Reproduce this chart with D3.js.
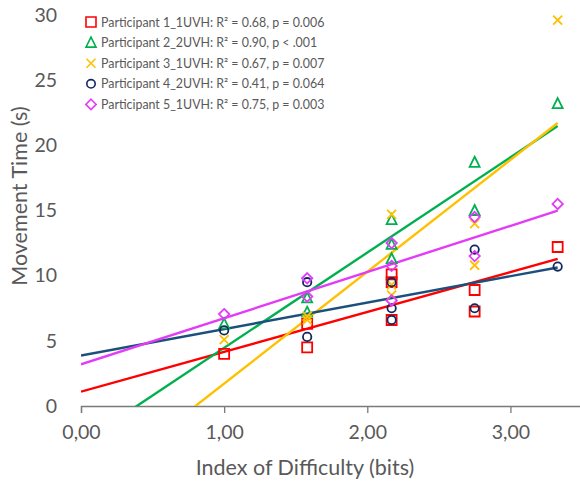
<!DOCTYPE html>
<html><head><meta charset="utf-8">
<script src="https://cdn.jsdelivr.net/npm/d3@7"></script>
<style>body{margin:0;background:#fff}svg text{font-family:Lato,"Noto Sans",sans-serif}</style>
</head><body><svg id="c" width="580" height="487"></svg>
<script>
// ---- data ----
const participants = ["Participant 1_1UVH", "Participant 2_2UVH", "Participant 3_1UVH", "Participant 4_2UVH", "Participant 5_1UVH"];
const statsLabels = ["R² = 0.68, p = 0.006", "R² = 0.90, p < .001", "R² = 0.67, p = 0.007", "R² = 0.41, p = 0.064", "R² = 0.75, p = 0.003"];
const idX = [1.00, 1.58, 1.58, 2.17, 2.17, 2.17, 2.75, 2.75, 3.33];
const p1Y = [4.0, 6.3, 4.5, 10.1, 9.5, 6.6, 8.9, 7.25, 12.2];
const p2Y = [6.3, 8.3, 7.2, 14.3, 12.4, 11.3, 18.7, 15.0, 23.2];
const p3Y = [5.1, 6.9, 6.6, 14.7, 9.3, 8.5, 14.0, 10.8, 29.6];
const p4Y = [5.8, 9.5, 5.3, 9.5, 7.5, 6.6, 12.0, 7.5, 10.7];
const p5Y = [7.05, 9.8, 8.4, 12.5, 10.75, 8.1, 14.5, 11.5, 15.5];
const trendIntercept = [1.1, -2.85, -6.86, 3.87, 3.2];
const trendSlope = [3.06, 7.31, 8.58, 2.03, 3.54];
const xTicks = [0, 1, 2, 3];
const yTicks = [0, 5, 10, 15, 20, 25, 30];
const xTitle = "Index of Difficulty (bits)";
const yTitle = "Movement Time (s)";

// ---- styles ----
const seriesY = [p1Y, p2Y, p3Y, p4Y, p5Y];
const markerColor = ["#ff0000", "#00b050", "#ffc000", "#13285f", "#e23cf7"];
const lineColor = ["#ff0000", "#00b050", "#ffc000", "#1b4f7c", "#e23cf7"];
const shapes = ["square", "triangle", "x", "circle", "diamond"];

const svg = d3.select("#c");
const x = d3.scaleLinear().domain([0, 3.5]).range([81, 582]);
const y = d3.scaleLinear().domain([0, 30]).range([406, 15]);
const txt = "#595959";

function shapePath(s) {
  switch (s) {
    case "square": return "M-5,-5H5V5H-5Z";
    case "triangle": return "M0,-5.5L5,4.5H-5Z";
    case "x": return "M-4.5,-4.5L4.5,4.5M4.5,-4.5L-4.5,4.5";
    case "circle": return "M-4.2,0A4.2,4.2 0 1,0 4.2,0A4.2,4.2 0 1,0 -4.2,0";
    case "diamond": return "M0,-5.2L5.2,0L0,5.2L-5.2,0Z";
  }
}

// clip
svg.append("clipPath").attr("id", "pc").append("rect")
  .attr("x", x(0)).attr("y", 0).attr("width", x(3.5) - x(0)).attr("height", y(0));

// axes
const xAxis = svg.append("g").attr("transform", `translate(0,${y(0)})`)
  .call(d3.axisBottom(x).tickValues(xTicks).tickSize(7).tickPadding(12)
    .tickFormat(d => d3.format(".2f")(d).replace(".", ",")));
xAxis.select(".domain").attr("stroke", "#7a7a7a").attr("stroke-width", 1.3);
xAxis.selectAll(".tick line").attr("stroke", "#7a7a7a").attr("stroke-width", 1.3);
xAxis.selectAll("text").attr("fill", txt).attr("font-size", 19.5);

const yAxis = svg.append("g").attr("transform", `translate(${x(0)},0)`)
  .call(d3.axisLeft(y).tickValues(yTicks).tickSize(0).tickPadding(24));
yAxis.select(".domain").remove();
yAxis.selectAll("text").attr("fill", txt).attr("font-size", 19.5);

// titles
svg.append("text").attr("x", 305).attr("y", 475).attr("text-anchor", "middle")
  .attr("fill", txt).attr("font-size", 21.5).text(xTitle);
svg.append("text").attr("transform", "translate(27,196) rotate(-90)").attr("text-anchor", "middle")
  .attr("fill", txt).attr("font-size", 21.5).text(yTitle);

// trendlines
const plot = svg.append("g").attr("clip-path", "url(#pc)");
const xMax = d3.max(idX);
trendIntercept.forEach((b, i) => {
  const m = trendSlope[i];
  plot.append("line")
    .attr("x1", x(0)).attr("y1", y(b))
    .attr("x2", x(xMax)).attr("y2", y(b + m * xMax))
    .attr("stroke", lineColor[i]).attr("stroke-width", 2.4);
});

// points
seriesY.forEach((vals, i) => {
  plot.selectAll(null).data(vals).enter().append("path")
    .attr("transform", (d, j) => `translate(${x(idX[j])},${y(d)})`)
    .attr("d", shapePath(shapes[i]))
    .attr("fill", "none").attr("stroke", markerColor[i]).attr("stroke-width", 1.8);
});

// legend
participants.forEach((p, i) => {
  const cy = 22 + i * 20.6;
  svg.append("path").attr("transform", `translate(91,${cy})`).attr("d", shapePath(shapes[i]))
    .attr("fill", "none").attr("stroke", markerColor[i]).attr("stroke-width", 1.6);
  svg.append("text").attr("x", 101).attr("y", cy + 4.5).attr("fill", txt)
    .attr("font-size", 12.4).text(p + ": " + statsLabels[i]);
});
</script></body></html>
